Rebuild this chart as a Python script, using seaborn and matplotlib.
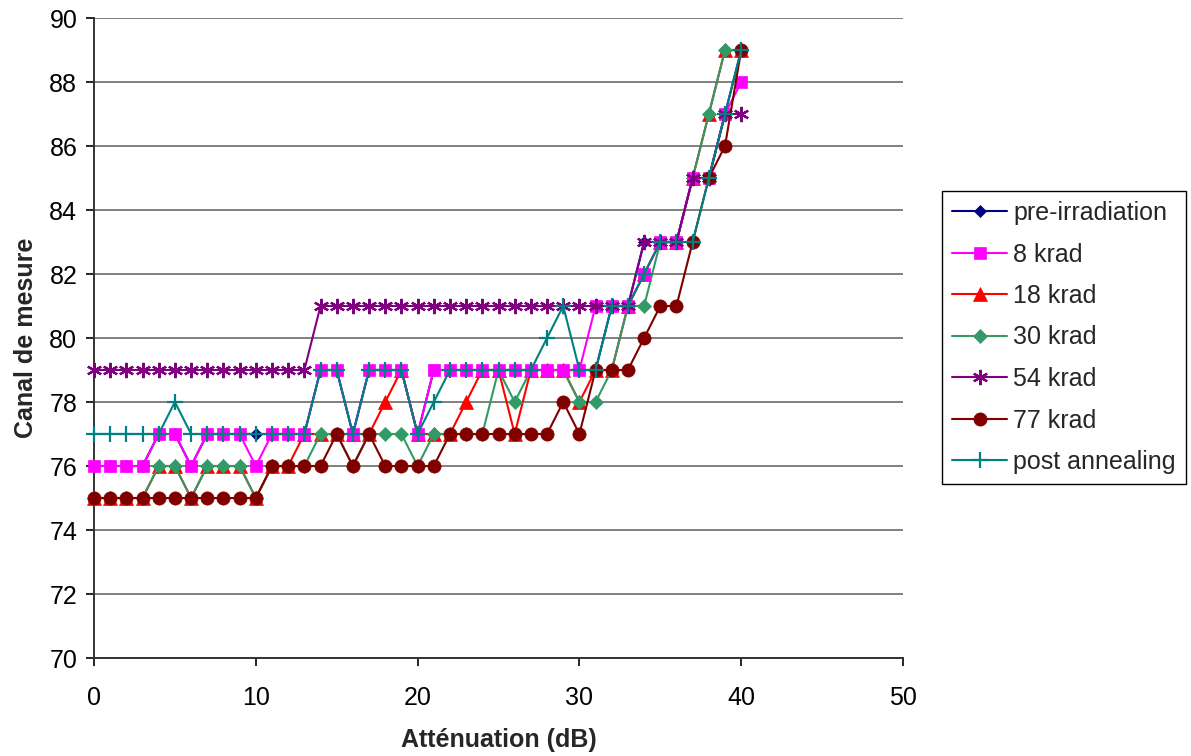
import matplotlib
matplotlib.use("Agg")
import matplotlib.pyplot as plt
import seaborn as sns
import numpy as np

attenuation = list(range(0, 41))

pre_irradiation = [76, 76, 76, 76, 77, 77, 76, 77, 77, 77, 77, 77, 77, 77, 79, 79, 77, 79, 79, 79, 77,
                   79, 79, 79, 79, 79, 79, 79, 79, 79, 79, 79, 81, 81, 83, 83, 83, 85, 85, 87, 89]
krad_8 = [76, 76, 76, 76, 77, 77, 76, 77, 77, 77, 76, 77, 77, 77, 79, 79, 77, 79, 79, 79, 77,
          79, 79, 79, 79, 79, 79, 79, 79, 79, 79, 81, 81, 81, 82, 83, 83, 85, 85, 87, 88]
krad_18 = [75, 75, 75, 75, 76, 76, 75, 76, 76, 76, 75, 76, 76, 77, 77, 77, 77, 77, 78, 79, 77,
           77, 77, 78, 79, 79, 77, 79, 79, 79, 78, 79, 79, 81, 82, 83, 83, 85, 87, 89, 89]
krad_30 = [75, 75, 75, 75, 76, 76, 75, 76, 76, 76, 75, 76, 76, 76, 77, 77, 76, 77, 77, 77, 76,
           77, 77, 77, 77, 79, 78, 79, 79, 79, 78, 78, 79, 81, 81, 83, 83, 85, 87, 89, 89]
krad_54 = [79, 79, 79, 79, 79, 79, 79, 79, 79, 79, 79, 79, 79, 79, 81, 81, 81, 81, 81, 81, 81,
           81, 81, 81, 81, 81, 81, 81, 81, 81, 81, 81, 81, 81, 83, 83, 83, 85, 85, 87, 87]
krad_77 = [75, 75, 75, 75, 75, 75, 75, 75, 75, 75, 75, 76, 76, 76, 76, 77, 76, 77, 76, 76, 76,
           76, 77, 77, 77, 77, 77, 77, 77, 78, 77, 79, 79, 79, 80, 81, 81, 83, 85, 86, 89]
post_annealing = [77, 77, 77, 77, 77, 78, 77, 77, 77, 77, 77, 77, 77, 77, 79, 79, 77, 79, 79, 79, 77,
                  78, 79, 79, 79, 79, 79, 79, 80, 81, 79, 79, 81, 81, 82, 83, 83, 83, 85, 87, 89]

series_labels = ["pre-irradiation", "8 krad", "18 krad", "30 krad", "54 krad", "77 krad", "post annealing"]
series_values = [pre_irradiation, krad_8, krad_18, krad_30, krad_54, krad_77, post_annealing]

x_ticks = [0, 10, 20, 30, 40, 50]
y_ticks = [70, 72, 74, 76, 78, 80, 82, 84, 86, 88, 90]

styles = [
    dict(color="#000080", marker="D", markersize=6.5, zorder=3.0),
    dict(color="#FF00FF", marker="s", markersize=8.5, zorder=3.2),
    dict(color="#FF0000", marker="^", markersize=9.5, zorder=2.8),
    dict(color="#339966", marker="D", markersize=7.5, zorder=3.1),
    dict(color="#800080", marker=(6, 2, 0), markersize=11, zorder=3.3),
    dict(color="#800000", marker="o", markersize=9.5, zorder=3.4),
    dict(color="#008080", marker="+", markersize=11, zorder=3.5),
]

sns.set_style("white")
plt.rcParams["font.family"] = ["Liberation Sans", "DejaVu Sans"]

FS = 18

fig = plt.figure(figsize=(11.91, 7.56), dpi=100)
ax = fig.add_axes([94 / 1191, 1 - 658 / 756, (903 - 94) / 1191, (658 - 18) / 756])

for label, vals, st in zip(series_labels, series_values, styles):
    sns.lineplot(x=attenuation, y=vals, ax=ax, label=label, color=st["color"],
                 marker=st["marker"], markersize=st["markersize"],
                 markeredgecolor=st["color"], markerfacecolor=st["color"],
                 markeredgewidth=1.6 if st["marker"] in ("+", (6, 2, 0)) else 0.5,
                 linewidth=1.5, zorder=st["zorder"], clip_on=False)

ax.set_xlim(0, 50)
ax.set_ylim(70, 90)
ax.set_xticks(x_ticks)
ax.set_yticks(y_ticks)
ax.tick_params(axis="both", labelsize=FS, direction="out", length=6, width=1.2,
               colors="#000000", left=True, bottom=True)
ax.tick_params(axis="x", pad=14)
ax.tick_params(axis="y", pad=6)
ax.yaxis.grid(True, color="#808080", linewidth=1.4)
ax.xaxis.grid(False)
ax.set_axisbelow(True)
for s in ["top", "right"]:
    ax.spines[s].set_visible(False)
for s in ["left", "bottom"]:
    ax.spines[s].set_color("#333333")
    ax.spines[s].set_linewidth(1.4)

ax.set_xlabel("Atténuation (dB)", fontsize=FS, fontweight="bold", labelpad=13)
ax.set_ylabel("Canal de mesure", fontsize=FS, fontweight="bold", labelpad=8)

ax.legend_.remove()
handles, labels = ax.get_legend_handles_labels()
leg = fig.legend(handles, labels, loc="lower left",
                 bbox_to_anchor=(942 / 1191, 1 - 484 / 756), borderaxespad=0,
                 fontsize=FS, frameon=True, fancybox=False, edgecolor="#000000",
                 handlelength=2.2, handletextpad=0.25, labelspacing=0.7,
                 borderpad=0.4, framealpha=1)
leg.get_frame().set_linewidth(1.0)

fig.savefig("out.png", dpi=100, facecolor="white")
